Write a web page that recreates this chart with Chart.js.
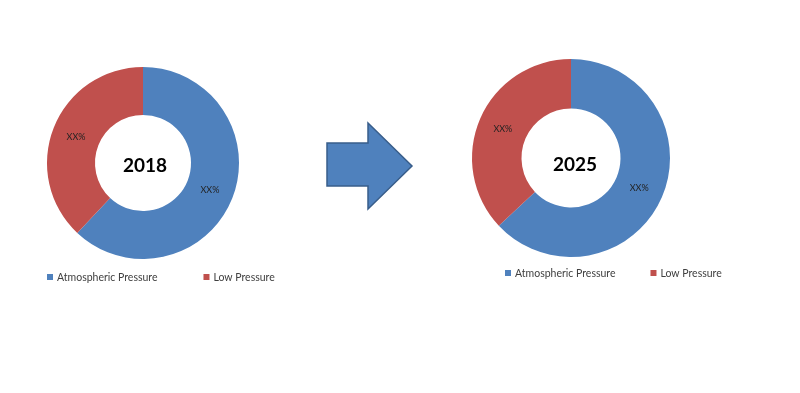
<!DOCTYPE html>
<html>
<head>
<meta charset="utf-8">
<script src="https://cdn.jsdelivr.net/npm/chart.js@4/dist/chart.umd.min.js"></script>
<style>
  html, body { margin: 0; padding: 0; background: #ffffff; }
  #wrap { position: relative; width: 800px; height: 393px; overflow: hidden; background: #fff; }
  #c1 { position: absolute; left: 0; top: 0; }
  #c2 { position: absolute; left: 400px; top: 0; }
</style>
</head>
<body>
<div id="wrap">
  <canvas id="c2" width="400" height="393"></canvas>
  <canvas id="c1" width="450" height="393"></canvas>
</div>
<script>
// ---- data ----
const categories = ["Atmospheric Pressure", "Low Pressure"];
const years = ["2018", "2025"];
const values2018 = [62, 38];
const values2025 = [63, 37];
const sliceLabels = ["XX%", "XX%"];
const colors = ["#4F81BD", "#C0504D"];

const FONT = "Lato, 'Liberation Sans', Arial, sans-serif";

// draws centre year text, slice labels, custom legend, optional arrow
const decorPlugin = {
  id: 'decor',
  afterDraw(chart, args, opts) {
    const ctx = chart.ctx;
    const meta = chart.getDatasetMeta(0);
    const arc0 = meta.data[0];
    const cx = arc0.x, cy = arc0.y;
    ctx.save();
    // centre text
    ctx.fillStyle = '#000';
    ctx.font = "bold 19px " + FONT;
    ctx.textAlign = 'center';
    ctx.textBaseline = 'middle';
    ctx.fillText(opts.year, cx + opts.yearDx, cy + opts.yearDy);
    // slice labels
    ctx.font = "9px " + FONT;
    ctx.fillStyle = '#222';
    meta.data.forEach((arc, i) => {
      const p = arc.tooltipPosition();
      ctx.fillText(sliceLabels[i], p.x, p.y + 1);
    });
    // legend
    ctx.font = "10.5px " + FONT;
    ctx.textAlign = 'left';
    let x = opts.legendX;
    const y = opts.legendY;
    chart.data.labels.forEach((lab, i) => {
      ctx.fillStyle = chart.data.datasets[0].backgroundColor[i];
      ctx.fillRect(x, y - 3, 6, 6);
      x += 10;
      ctx.fillStyle = '#404040';
      ctx.fillText(lab, x, y + 0.5);
      x += ctx.measureText(lab).width + opts.legendGap;
    });
    // arrow
    if (opts.arrow) {
      const a = opts.arrow;
      ctx.beginPath();
      ctx.moveTo(a[0][0], a[0][1]);
      for (let k = 1; k < a.length; k++) ctx.lineTo(a[k][0], a[k][1]);
      ctx.closePath();
      ctx.fillStyle = '#4F81BD';
      ctx.fill();
      ctx.lineWidth = 1.5;
      ctx.strokeStyle = '#385D8A';
      ctx.stroke();
    }
    ctx.restore();
  }
};

function makeChart(id, values, year, padding, deco) {
  return new Chart(document.getElementById(id), {
    type: 'doughnut',
    data: {
      labels: categories,
      datasets: [{
        data: values,
        backgroundColor: colors,
        borderWidth: 0,
        hoverOffset: 0
      }]
    },
    options: {
      responsive: false,
      animation: false,
      events: [],
      cutout: '50%',
      layout: { padding: padding },
      plugins: {
        legend: { display: false },
        tooltip: { enabled: false },
        decor: Object.assign({ year: year }, deco)
      }
    },
    plugins: [decorPlugin]
  });
}

makeChart('c1', values2018, years[0],
  { left: 47, right: 211, top: 67, bottom: 134 },
  { yearDx: 2, yearDy: 2.5, legendX: 47, legendY: 277, legendGap: 46,
    arrow: [[327,143],[368,143],[368,123],[412,166],[368,209],[368,186],[327,186]] });

makeChart('c2', values2025, years[1],
  { left: 72, right: 130, top: 59, bottom: 136 },
  { yearDx: 4, yearDy: 7, legendX: 105, legendY: 273, legendGap: 35 });
</script>
</body>
</html>
